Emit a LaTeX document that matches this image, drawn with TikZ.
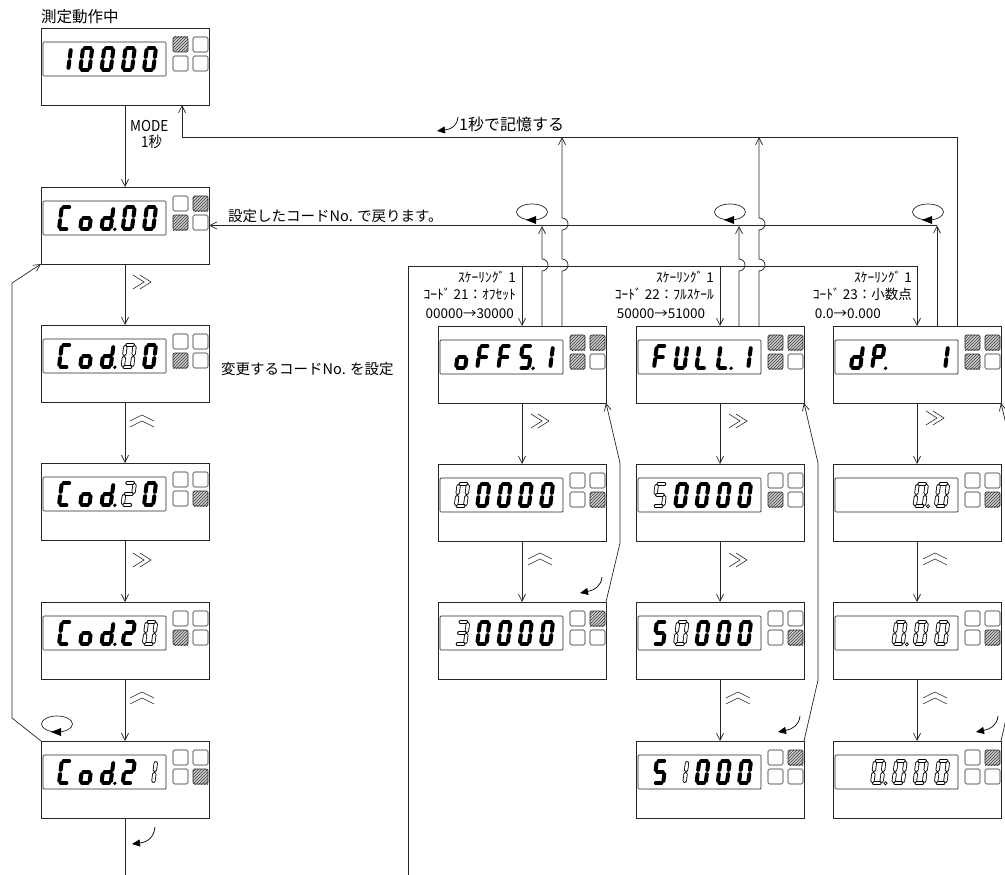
\documentclass[tikz,border=0pt]{standalone}
\usepackage{fontspec}
\usepackage{graphicx}
\setmainfont{Noto Sans CJK JP}
\usetikzlibrary{arrows.meta,patterns}

% seven-segment geometry (local, y downwards)
\def\SA{-2.8/-11/2.8/-11}
\def\SB{4.6/-8.8/4.6/-2.2}
\def\SC{4.6/2.2/4.6/8.8}
\def\SD{-2.8/11/2.8/11}
\def\SE{-4.6/2.2/-4.6/8.8}
\def\SF{-4.6/-8.8/-4.6/-2.2}
\def\SG{-2.8/0/2.8/0}
\edef\DZero{\SA,\SB,\SC,\SD,\SE,\SF}
\edef\DOne{\SB,\SC}
\edef\DTwo{\SA,\SB,\SG,\SE,\SD}
\edef\DThree{\SA,\SB,\SG,\SC,\SD}
\edef\DFive{\SA,\SF,\SG,\SC,\SD}
\edef\DC{\SA,\SF,\SE,\SD}
\edef\Do{\SG,\SC,\SD,\SE}
\edef\Dd{\SB,\SC,\SD,\SE,\SG}
\edef\DF{\SA,\SF,\SE,\SG}
\edef\DU{\SB,\SC,\SD,\SE,\SF}
\edef\DL{\SF,\SE,\SD}
\edef\DP{\SA,\SB,\SF,\SG,\SE}

\newcommand\dg[5]{%
\begin{scope}[shift={({#1+24+21.25*#3},{#2+31})},xslant=0.13]
\ifnum#5=0
\foreach \xa/\ya/\xb/\yb in #4 {\draw[bseg] (\xa,\ya) -- (\xb,\yb);}
\else
\foreach \xa/\ya/\xb/\yb in #4 {\draw[hsegA] (\xa,\ya) -- (\xb,\yb); \draw[hsegB] (\xa,\ya) -- (\xb,\yb);}
\fi
\end{scope}}
\newcommand\dpt[4]{%
\begin{scope}[shift={({#1+24+21.25*#3},{#2+31})},xslant=0.13]
\ifnum#4=0
\fill[black] (8.8,11.3) circle[radius=1.9pt];
\else
\draw[line width=0.7pt] (8.8,11.3) circle[radius=1.6pt];
\fi
\end{scope}}
\newcommand\sqr[3]{%
\ifnum#3=1
\fill[gray!40] ({#1},{#2}) rectangle ++(15,15);
\fill[pattern=north east lines, pattern color=black!75] ({#1},{#2}) rectangle ++(15,15);
\fi
\draw[sqs] ({#1},{#2}) rectangle ++(15,15);}
\newcommand\disp[7]{%
\node[box] (#1) at ({#2+84},{#3+38.5}) {};
\draw[win] ({#2+2},{#3+14}) rectangle ({#2+125},{#3+48});
\sqr{#2+132}{#3+9}{#4}\sqr{#2+152}{#3+9}{#5}\sqr{#2+132}{#3+28}{#6}\sqr{#2+152}{#3+28}{#7}}
\newcommand\cod[2]{\dg{#1}{#2}{0}{\DC}{0}\dg{#1}{#2}{1}{\Do}{0}\dg{#1}{#2}{2}{\Dd}{0}\dpt{#1}{#2}{2}{0}}
\newcommand\rch[2]{%
\draw[chev] ({#1-9},{#2-7}) -- ({#1+2},{#2}) -- ({#1-9},{#2+7});
\draw[chev] ({#1-2},{#2-7}) -- ({#1+9},{#2}) -- ({#1-2},{#2+7});}
\newcommand\uch[2]{%
\draw[chev] ({#1-12},{#2-1}) -- ({#1},{#2-7}) -- ({#1+12},{#2-1});
\draw[chev] ({#1-12},{#2+5}) -- ({#1},{#2-1}) -- ({#1+12},{#2+5});}
\newcommand\loopic[2]{%
\draw[ln] ({#1},{#2}) ellipse [x radius=15.5pt, y radius=8pt];
\fill[black] ({#1-6},{#2+8}) -- ({#1+4},{#2+4}) -- ({#1+4},{#2+12}) -- cycle;}

\begin{document}
\begin{tikzpicture}[x=1pt,y=-1pt,
  box/.style={draw=black!85, line width=0.8pt, minimum width=168pt, minimum height=77pt, inner sep=0pt, outer sep=0pt},
  win/.style={draw=black!85, line width=0.7pt, rounded corners=1pt},
  sqs/.style={draw=black!85, line width=0.6pt, rounded corners=1.5pt},
  ln/.style={draw=black!85, line width=0.7pt},
  arr/.style={ln, -{Straight Barb[length=7pt,width=7pt]}},
  curv/.style={draw=black, line width=0.7pt, -{Triangle[length=8pt,width=7pt]}},
  chev/.style={draw=black!85, line width=0.6pt},
  bseg/.style={black, line width=4pt, line cap=round},
  hsegA/.style={black, line width=4.2pt, line cap=round},
  hsegB/.style={white, line width=2.6pt, line cap=round},
  lab/.style={inner sep=0pt, font=\fontsize{14.5}{16}\selectfont},
  klab/.style={inner sep=0pt, font=\fontsize{13.5}{15}\selectfont}]
\useasboundingbox (0,0) rectangle (1005,875);

% ---- left column
\disp{top}{41}{28}{1}{0}{0}{0}
\dg{41}{28}{0}{\DOne}{0}\dg{41}{28}{1}{\DZero}{0}\dg{41}{28}{2}{\DZero}{0}\dg{41}{28}{3}{\DZero}{0}\dg{41}{28}{4}{\DZero}{0}
\disp{c1}{41}{187}{0}{1}{1}{0}
\cod{41}{187}\dg{41}{187}{3}{\DZero}{0}\dg{41}{187}{4}{\DZero}{0}
\disp{c2}{41}{325}{0}{0}{1}{0}
\cod{41}{325}\dg{41}{325}{3}{\DZero}{1}\dg{41}{325}{4}{\DZero}{0}
\disp{c3}{41}{463}{0}{0}{0}{1}
\cod{41}{463}\dg{41}{463}{3}{\DTwo}{1}\dg{41}{463}{4}{\DZero}{0}
\disp{c4}{41}{602}{0}{0}{1}{0}
\cod{41}{602}\dg{41}{602}{3}{\DTwo}{0}\dg{41}{602}{4}{\DZero}{1}
\disp{c5}{41}{741}{0}{0}{0}{1}
\cod{41}{741}\dg{41}{741}{3}{\DTwo}{0}\dg{41}{741}{4}{\DOne}{1}

% ---- column 1
\disp{a1}{438}{326}{1}{1}{1}{0}
\dg{438}{326}{0}{\Do}{0}\dg{438}{326}{1}{\DF}{0}\dg{438}{326}{2}{\DF}{0}\dg{438}{326}{3}{\DFive}{0}\dpt{438}{326}{3}{0}\dg{438}{326}{4}{\DOne}{0}
\disp{a2}{438}{464}{0}{0}{0}{1}
\dg{438}{464}{0}{\DZero}{1}\dg{438}{464}{1}{\DZero}{0}\dg{438}{464}{2}{\DZero}{0}\dg{438}{464}{3}{\DZero}{0}\dg{438}{464}{4}{\DZero}{0}
\disp{a3}{438}{602}{0}{1}{0}{0}
\dg{438}{602}{0}{\DThree}{1}\dg{438}{602}{1}{\DZero}{0}\dg{438}{602}{2}{\DZero}{0}\dg{438}{602}{3}{\DZero}{0}\dg{438}{602}{4}{\DZero}{0}

% ---- column 2
\disp{b1}{636}{326}{1}{1}{1}{0}
\dg{636}{326}{0}{\DF}{0}\dg{636}{326}{1}{\DU}{0}\dg{636}{326}{2}{\DL}{0}\dg{636}{326}{3}{\DL}{0}\dpt{636}{326}{3}{0}\dg{636}{326}{4}{\DOne}{0}
\disp{b2}{636}{464}{0}{0}{1}{0}
\dg{636}{464}{0}{\DFive}{1}\dg{636}{464}{1}{\DZero}{0}\dg{636}{464}{2}{\DZero}{0}\dg{636}{464}{3}{\DZero}{0}\dg{636}{464}{4}{\DZero}{0}
\disp{b3}{636}{602}{0}{0}{0}{1}
\dg{636}{602}{0}{\DFive}{0}\dg{636}{602}{1}{\DZero}{1}\dg{636}{602}{2}{\DZero}{0}\dg{636}{602}{3}{\DZero}{0}\dg{636}{602}{4}{\DZero}{0}
\disp{b4}{636}{741}{0}{1}{0}{0}
\dg{636}{741}{0}{\DFive}{0}\dg{636}{741}{1}{\DOne}{1}\dg{636}{741}{2}{\DZero}{0}\dg{636}{741}{3}{\DZero}{0}\dg{636}{741}{4}{\DZero}{0}

% ---- column 3
\disp{d1}{833}{326}{1}{1}{1}{0}
\dg{833}{326}{0}{\Dd}{0}\dg{833}{326}{1}{\DP}{0}\dpt{833}{326}{1}{0}\dg{833}{326}{4}{\DOne}{0}
\disp{d2}{833}{464}{0}{0}{0}{1}
\dg{833}{464}{3}{\DZero}{1}\dpt{833}{464}{3}{1}\dg{833}{464}{4}{\DZero}{1}
\disp{d3}{833}{602}{0}{0}{0}{1}
\dg{833}{602}{2}{\DZero}{1}\dpt{833}{602}{2}{1}\dg{833}{602}{3}{\DZero}{1}\dg{833}{602}{4}{\DZero}{1}
\disp{d4}{833}{741}{0}{1}{0}{0}
\dg{833}{741}{1}{\DZero}{1}\dpt{833}{741}{1}{1}\dg{833}{741}{2}{\DZero}{1}\dg{833}{741}{3}{\DZero}{1}\dg{833}{741}{4}{\DZero}{1}

% ---- coordinates
\coordinate (h137) at (182,137);
\coordinate (h137r) at (957,137);
\coordinate (h226) at (937,225.5);
\coordinate (h266) at (408,266);
\coordinate (bot1) at (125,875);
\coordinate (bot2) at (408,875);
\coordinate (ua1) at (542,226);
\coordinate (va1) at (562,137);
\coordinate (ub1) at (739,226);
\coordinate (vb1) at (759,137);

% ---- left column connectors
\draw[arr] (top.south) -- (c1.north);
\draw[arr] (c1.south) -- (c2.north);
\draw[arr] (c2.south) -- (c3.north);
\draw[arr] (c3.south) -- (c4.north);
\draw[arr] (c4.south) -- (c5.north);
\draw[ln] (c5.south) -- (bot1);
\draw[arr] (c5.north west) -- (12,718) -- (12,283) -- (c1.south west);

% ---- top return line
\draw[arr] (d1.north -| h137r) -- (h137r) -- (h137) -- (top.south -| h137);
\draw[arr] (a1.north -| va1) -- (562,271) arc[start angle=-90,end angle=90,radius=6pt] -- (562,230) arc[start angle=-90,end angle=90,radius=6pt] -- (va1);
\draw[arr] (b1.north -| vb1) -- (759,271) arc[start angle=-90,end angle=90,radius=6pt] -- (759,230) arc[start angle=-90,end angle=90,radius=6pt] -- (vb1);

% ---- code return line
\draw[arr] (h226) -- (c1.east);
\draw[arr] (d1.north -| h226) -- (h226);
\draw[arr] (a1.north -| ua1) -- (542,271) arc[start angle=-90,end angle=90,radius=6pt] -- (ua1);
\draw[arr] (b1.north -| ub1) -- (739,271) arc[start angle=-90,end angle=90,radius=6pt] -- (ub1);

% ---- entry line
\draw[arr] (bot2) -- (h266) -- (d1.north |- h266) -- (d1.north);
\draw[arr] (a1.north |- h266) -- (a1.north);
\draw[arr] (b1.north |- h266) -- (b1.north);

% ---- right columns
\draw[arr] (a1.south) -- (a2.north);
\draw[arr] (a2.south) -- (a3.north);
\draw[arr] (b1.south) -- (b2.north);
\draw[arr] (b2.south) -- (b3.north);
\draw[arr] (b3.south) -- (b4.north);
\draw[arr] (d1.south) -- (d2.north);
\draw[arr] (d2.south) -- (d3.north);
\draw[arr] (d3.south) -- (d4.north);
\draw[arr] (a3.north east) -- (620,543) -- (620,463) -- (a1.south east);
\draw[arr] (b4.north east) -- (818,680) -- (818,463) -- (b1.south east);
\draw[arr] (d4.north east) -- (1015,680) -- (1015,463) -- (d1.south east);

% ---- chevrons
\rch{142}{282}\uch{142}{422}\rch{142}{560}\uch{142}{699}
\rch{540}{421}\uch{540}{560}
\rch{738}{421}\rch{738}{560}\uch{738}{699}
\rch{935}{418}\uch{935}{560}\uch{935}{699}

% ---- loop icons
\loopic{532}{212}\loopic{730}{212}\loopic{928}{212}\loopic{57}{724}

% ---- small curved arrows
\draw[curv] (458,117) .. controls (457,126) and (452,129) .. (437,131);
\draw[curv] (155,827) .. controls (154,837) and (148,842) .. (132,844);
\draw[curv] (602,577) .. controls (601,586) and (595,590) .. (580,593);
\draw[curv] (800,716) .. controls (799,725) and (793,729) .. (778,732);
\draw[curv] (998,716) .. controls (997,725) and (991,729) .. (976,732);

% ---- texts
\node[lab, anchor=west, font=\fontsize{15.5}{17}\selectfont] (t0) at (41,17) {測定動作中};
\node[klab, anchor=west, font=\fontsize{15}{16}\selectfont] (tm) at (130,126) {\scalebox{0.9}[1]{MODE}};
\node[klab, anchor=west, font=\fontsize{15}{16}\selectfont] (ts) at (141,142) {\scalebox{0.9}[1]{1秒}};
\node[lab, anchor=west, font=\fontsize{16}{17}\selectfont] (t1) at (459,124) {1秒で記憶する};
\node[lab, anchor=west] (t2) at (228,216) {設定したコードNo. で戻ります。};
\node[lab, anchor=west] (t3) at (221,369) {変更するコードNo. を設定};

\node[klab, anchor=east] (a1l1) at (516,277) {ｽｹｰﾘﾝｸﾞ 1};
\node[klab, anchor=east] (a1l2) at (516,294) {ｺｰﾄﾞ 21：ｵﾌｾｯﾄ};
\path (a1l2.west) ++(2,20) node[klab, anchor=west] (a1l3) {00000→30000};
\node[klab, anchor=east] (b1l1) at (714,277) {ｽｹｰﾘﾝｸﾞ 1};
\node[klab, anchor=east] (b1l2) at (714,294) {ｺｰﾄﾞ 22：ﾌﾙｽｹｰﾙ};
\path (b1l2.west) ++(2,20) node[klab, anchor=west] (b1l3) {50000→51000};
\node[klab, anchor=east] (d1l1) at (912,277) {ｽｹｰﾘﾝｸﾞ 1};
\node[klab, anchor=east] (d1l2) at (912,294) {ｺｰﾄﾞ 23：小数点};
\path (d1l2.west) ++(2,20) node[klab, anchor=west] (d1l3) {0.0→0.000};
\end{tikzpicture}
\end{document}
